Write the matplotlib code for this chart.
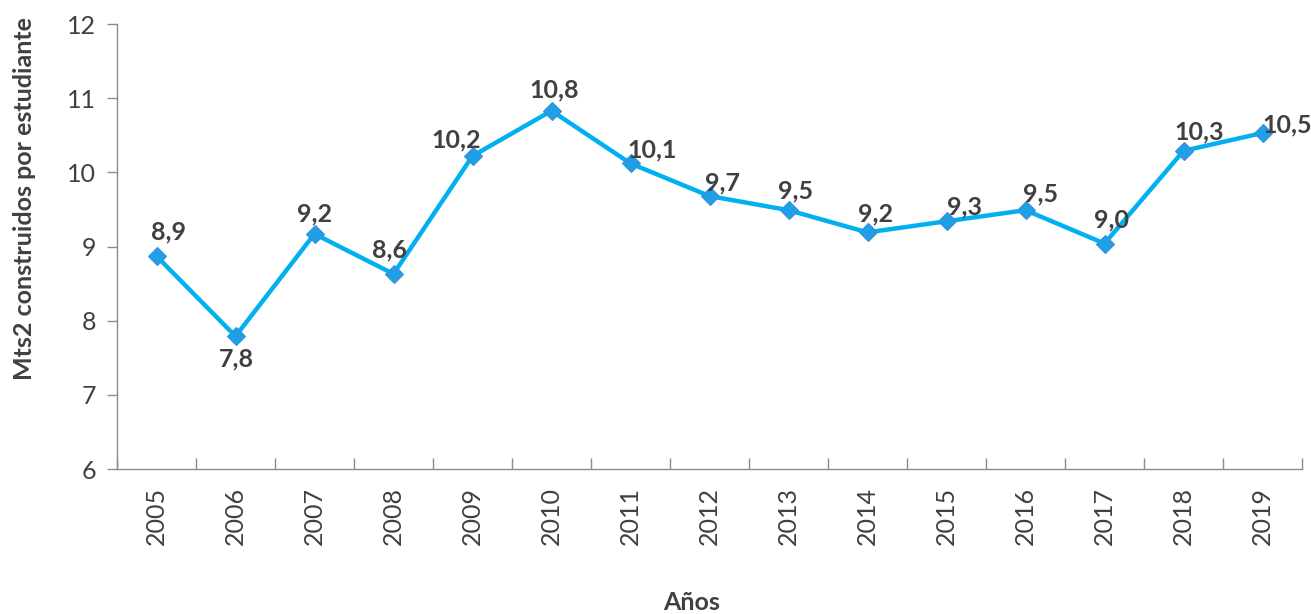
import numpy as np
import matplotlib.pyplot as plt
from matplotlib.ticker import FixedLocator

# Metros cuadrados construidos por estudiante, 2005-2019
anios = ['2005', '2006', '2007', '2008', '2009', '2010', '2011', '2012',
         '2013', '2014', '2015', '2016', '2017', '2018', '2019']
mts2 = [8.87, 7.79, 9.17, 8.63, 10.22, 10.83, 10.12, 9.68,
        9.49, 9.19, 9.34, 9.49, 9.04, 10.29, 10.53]

# desplazamiento de cada etiqueta respecto a su punto (pixeles)
offsets = [(12, 24), (1, -23), (0, 20), (-4, 24), (-16, 16), (3, 21), (22, 14),
           (13, 13), (7, 19), (8, 18), (18, 14), (15, 16), (7, 24), (16, 19), (25, 8)]

plt.rcParams['font.family'] = ['Lato', 'DejaVu Sans']
gris_texto = '#404040'
gris_eje = '#8c8c8c'
azul_linea = '#00B0F0'
azul_marca = '#1E9FE8'

fig = plt.figure(figsize=(13.11, 6.14), dpi=100)
ax = fig.add_axes([117 / 1311, 1 - 469 / 614, (1302 - 117) / 1311, (469 - 24) / 614])

x = np.arange(len(anios))
ax.plot(x, mts2, color=azul_linea, linewidth=3.2, zorder=2)
ax.plot(x, mts2, linestyle='none', marker='D', markersize=9,
        markerfacecolor=azul_marca, markeredgecolor='#3A8FD9', markeredgewidth=0.8, zorder=3)

for xi, v, (dx, dy) in zip(x, mts2, offsets):
    ax.annotate(f'{v:.1f}'.replace('.', ','), (xi, v), xytext=(dx, dy),
                textcoords='offset pixels', ha='center', va='center',
                fontsize=18, fontweight='bold', color=gris_texto, zorder=4)

ax.set_xlim(-0.5, len(anios) - 0.5)
ax.set_ylim(6, 12)
ax.set_yticks(range(6, 13))
ax.set_xticks(x)
ax.set_xticklabels(anios, rotation=90)
ax.xaxis.set_minor_locator(FixedLocator(np.arange(-0.5, len(anios), 1.0)))

ax.tick_params(axis='x', which='major', length=0, pad=13, labelsize=18, labelcolor=gris_texto)
ax.tick_params(axis='x', which='minor', direction='in', length=8, width=1, color=gris_eje)
ax.tick_params(axis='y', which='major', direction='out', length=7, width=1, color=gris_eje,
               pad=8, labelsize=18, labelcolor=gris_texto)

for lado in ['top', 'right']:
    ax.spines[lado].set_visible(False)
for lado in ['left', 'bottom']:
    ax.spines[lado].set_color(gris_eje)
    ax.spines[lado].set_linewidth(1)

fig.text(25 / 1311, 1 - 199 / 614, 'Mts2 construidos por estudiante', rotation=90,
         ha='center', va='center', fontsize=18, fontweight='bold', color=gris_texto)
fig.text(692 / 1311, 1 - 602 / 614, 'Años', ha='center', va='center',
         fontsize=18, fontweight='bold', color=gris_texto)

fig.savefig('out.png', dpi=100)
